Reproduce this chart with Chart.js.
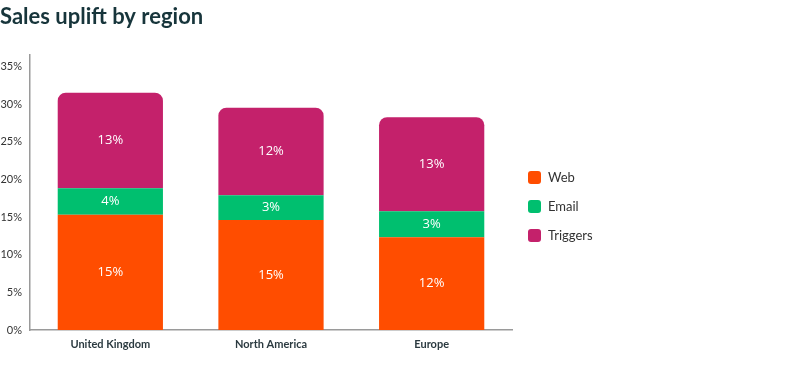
<!DOCTYPE html>
<html>
<head>
<meta charset="utf-8">
<script src="https://cdn.jsdelivr.net/npm/chart.js@4"></script>
<style>
  html, body { margin: 0; padding: 0; background: #fff; }
  #wrap { width: 800px; height: 366px; position: relative; }
</style>
</head>
<body>
<div id="wrap"><canvas id="c"></canvas></div>
<script>
const categories = ["United Kingdom", "North America", "Europe"];
const webValues = [15.3, 14.6, 12.3];
const emailValues = [3.5, 3.3, 3.45];
const triggerValues = [12.7, 11.6, 12.5];
const yTicks = [0, 5, 10, 15, 20, 25, 30, 35];
const seriesNames = ["Web", "Email", "Triggers"];
const seriesColors = ["#ff4d00", "#00bf6f", "#c4216b"];
const titleText = "Sales uplift by region";

const labelPlugin = {
  id: 'segLabels',
  afterDatasetsDraw(chart) {
    const ctx = chart.ctx;
    ctx.save();
    ctx.fillStyle = '#ffffff';
    ctx.font = '13px "Open Sans", sans-serif';
    ctx.textAlign = 'center';
    ctx.textBaseline = 'middle';
    chart.data.datasets.forEach((ds, i) => {
      const meta = chart.getDatasetMeta(i);
      meta.data.forEach((bar, j) => {
        const v = ds.data[j];
        const yMid = (bar.y + bar.base) / 2;
        ctx.fillText(Math.round(v) + '%', bar.x, yMid);
      });
    });
    ctx.restore();
  }
};

const titleLegendPlugin = {
  id: 'titleLegend',
  afterDraw(chart) {
    const ctx = chart.ctx;
    const area = chart.chartArea;
    ctx.save();
    // title
    ctx.fillStyle = '#17353b';
    ctx.font = 'bold 22px Lato, sans-serif';
    ctx.textAlign = 'left';
    ctx.textBaseline = 'middle';
    ctx.fillText(titleText, 0, 17);
    // legend
    const x0 = area.right + 16;
    const yC = (area.top + area.bottom) / 2 + 14;
    const gap = 29;
    ctx.font = '13px Lato, sans-serif';
    chart.data.datasets.forEach((ds, i) => {
      const y = yC + (i - 1) * gap;
      ctx.fillStyle = ds.backgroundColor;
      ctx.beginPath();
      ctx.roundRect(x0, y - 6.5, 13, 13, 3);
      ctx.fill();
      ctx.fillStyle = '#333';
      ctx.fillText(ds.label, x0 + 20, y + 0.5);
    });
    ctx.restore();
  }
};

new Chart(document.getElementById('c'), {
  type: 'bar',
  data: {
    labels: categories,
    datasets: [
      { label: seriesNames[0], data: webValues, backgroundColor: seriesColors[0], borderRadius: 0 },
      { label: seriesNames[1], data: emailValues, backgroundColor: seriesColors[1], borderRadius: 0 },
      { label: seriesNames[2], data: triggerValues, backgroundColor: seriesColors[2],
        borderRadius: { topLeft: 8, topRight: 8, bottomLeft: 0, bottomRight: 0 }, borderSkipped: false }
    ]
  },
  options: {
    responsive: true,
    maintainAspectRatio: false,
    animation: false,
    datasets: { bar: { categoryPercentage: 1, barPercentage: 0.655 } },
    layout: { padding: { left: 0, right: 288, top: 55, bottom: 8 } },
    scales: {
      x: {
        stacked: true,
        afterFit(axis) { axis.height = 28; },
        grid: { display: false, drawTicks: false },
        border: { display: true, color: '#9a9a9a', width: 1.5 },
        ticks: { color: '#2b3a40', font: { family: 'Lato', size: 11, weight: 'bold' }, padding: 8 }
      },
      y: {
        stacked: true,
        min: 0,
        max: 36.5,
        afterBuildTicks(axis) { axis.ticks = yTicks.map(v => ({ value: v })); },
        afterFit(axis) { axis.width = 30; },
        grid: { display: false, drawTicks: false },
        border: { display: true, color: '#9a9a9a', width: 1.5 },
        ticks: { color: '#333', font: { family: 'Lato', size: 11 }, padding: 8,
          callback: v => v + '%' }
      }
    },
    plugins: {
      title: { display: false },
      legend: { display: false },
      tooltip: { enabled: false }
    }
  },
  plugins: [labelPlugin, titleLegendPlugin]
});
</script>
</body>
</html>
